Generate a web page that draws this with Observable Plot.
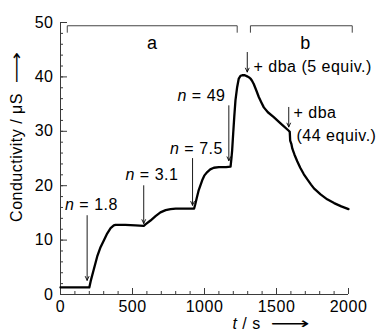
<!DOCTYPE html>
<html>
<head>
<meta charset="utf-8">
<script src="https://cdn.jsdelivr.net/npm/d3@7"></script>
<script src="https://cdn.jsdelivr.net/npm/@observablehq/plot@0.6"></script>
<style>
  html, body { margin: 0; padding: 0; background: white; }
</style>
</head>
<body>
<div id="chart"></div>
<script>
// ---- Data ----
const time = [0, 200, 210, 231, 255, 278, 300, 324, 348, 370, 382, 450, 520, 578, 590, 625, 660, 694, 730, 764, 800, 880, 928, 935, 945, 960, 984, 1000, 1019, 1040, 1065, 1100, 1150, 1181, 1187, 1192, 1199, 1207, 1215, 1226, 1238, 1250, 1262, 1280, 1296, 1310, 1319, 1330, 1342, 1360, 1377, 1395, 1412, 1440, 1481, 1530, 1585, 1592, 1595, 1603, 1610, 1625, 1644, 1665, 1690, 1713, 1740, 1760, 1806, 1852, 1900, 1950, 2000];
const conductivity = [1.3, 1.3, 2.5, 4.6, 7.0, 8.7, 9.9, 11.2, 12.2, 12.7, 12.8, 12.8, 12.7, 12.6, 12.9, 13.6, 14.4, 15.1, 15.5, 15.7, 15.8, 15.8, 15.8, 16.5, 17.6, 19.2, 21.0, 21.9, 22.5, 23.0, 23.3, 23.4, 23.4, 23.5, 25.0, 26.5, 29.5, 32.8, 35.7, 38.0, 39.7, 40.2, 40.3, 40.3, 40.1, 39.9, 39.7, 39.3, 38.7, 37.5, 36.3, 35.3, 34.4, 33.5, 32.6, 31.4, 30.1, 29.9, 28.3, 27.7, 26.8, 25.7, 24.5, 23.3, 22.1, 21.2, 20.2, 19.5, 18.4, 17.5, 16.8, 16.2, 15.7];

const xMajorTicks = [0, 500, 1000, 1500, 2000];
const xMinorTicks = d3.range(0, 2001, 100);
const yMajorTicks = [0, 10, 20, 30, 40, 50];
const yMinorTicks = d3.range(0, 51, 2);

const groupNames = ["a", "b"];
const groupStart = [47, 1319];
const groupEnd = [1227, 2026];
const groupLevel = [49.4, 49.4];
const groupTickEnd = [48.2, 48.2];
const groupLabelX = [637, 1701];
const groupLabelY = [46.1, 46.1];

const noteText = ["n = 1.8", "n = 3.1", "n = 7.5", "n = 49", "+ dba (5 equiv.)", "+ dba", "(44 equiv.)"];
const noteX = [215, 635, 944, 979, 1340, 1618, 1639];
const noteY = [16.4, 21.9, 26.7, 36.6, 41.9, 33.3, 29.1];
const noteAnchor = ["middle", "middle", "middle", "middle", "start", "start", "start"];

const arrowX = [185, 578, 917, 1169, 1297, 1585];
const arrowTop = [14.5, 20.0, 25.0, 34.7, 44.5, 34.4];
const arrowTip = [2.6, 13.05, 16.4, 24.6, 40.9, 30.8];

const yTitle = "Conductivity / μS ⟶";
const xTitle = "t / s ⟶";

// ---- Tables built from the arrays ----
const curve = time.map((t, i) => ({t, v: conductivity[i]}));
const brackets = groupNames.flatMap((g, i) => [
  {g, t: groupStart[i], v: groupTickEnd[i]},
  {g, t: groupStart[i], v: groupLevel[i]},
  {g, t: groupEnd[i], v: groupLevel[i]},
  {g, t: groupEnd[i], v: groupTickEnd[i]}
]);
const groupLabels = groupNames.map((g, i) => ({g, t: groupLabelX[i], v: groupLabelY[i]}));
const notes = noteText.map((s, i) => ({s, t: noteX[i], v: noteY[i], a: noteAnchor[i]}));
const arrows = arrowX.map((t, i) => ({t, v1: arrowTop[i], v2: arrowTip[i]}));

const axisColor = "#3a3a3a";
const fmt = d => String(d);

const chart = Plot.plot({
  width: 377,
  height: 329,
  marginLeft: 60,
  marginRight: 29,
  marginTop: 22,
  marginBottom: 35,
  x: {domain: [0, 2000]},
  y: {domain: [0, 50]},
  style: {
    fontFamily: "'Liberation Sans', Arial, Helvetica, sans-serif",
    fontSize: "16px",
    letterSpacing: "0.5px",
    background: "white",
    color: "black",
    overflow: "visible"
  },
  marks: [
    // axis lines
    Plot.ruleX([0], {stroke: axisColor, strokeWidth: 1}),
    Plot.ruleY([0], {stroke: axisColor, strokeWidth: 1}),
    // y axis: labels, inward major and minor ticks
    Plot.axisY(yMajorTicks, {tickSize: 0, tickPadding: 7, tickFormat: fmt, label: null, fill: "black"}),
    Plot.axisY(yMajorTicks, {tickSize: 7, dx: 7, text: null, label: null, stroke: axisColor}),
    Plot.axisY(yMinorTicks, {tickSize: 3, dx: 3, text: null, label: null, stroke: axisColor}),
    // x axis: labels, inward major and minor ticks
    Plot.axisX(xMajorTicks, {tickSize: 0, tickPadding: 6, tickFormat: fmt, label: null, fill: "black"}),
    Plot.axisX(xMajorTicks, {tickSize: 6, dy: -6, text: null, label: null, stroke: axisColor}),
    Plot.axisX(xMinorTicks, {tickSize: 3, dy: -3, text: null, label: null, stroke: axisColor}),
    // brackets a / b
    Plot.line(brackets, {x: "t", y: "v", z: "g", stroke: "#444", strokeWidth: 1}),
    Plot.text(groupLabels, {x: "t", y: "v", text: "g", fontSize: 18, fill: "black"}),
    // data curve
    Plot.line(curve, {x: "t", y: "v", stroke: "black", strokeWidth: 2.3, strokeLinejoin: "round", strokeLinecap: "round"}),
    // annotation arrows and labels
    Plot.arrow(arrows, {x1: "t", y1: "v1", x2: "t", y2: "v2", stroke: "black", strokeWidth: 0.9, headLength: 7, headAngle: 50}),
    Plot.text(notes.filter(d => d.a === "middle"), {x: "t", y: "v", text: "s", textAnchor: "middle", fill: "black"}),
    Plot.text(notes.filter(d => d.a === "start"), {x: "t", y: "v", text: "s", textAnchor: "start", fill: "black"}),
    // axis titles
    Plot.text([yTitle], {frameAnchor: "left", textAnchor: "middle", lineAnchor: "middle", rotate: -90, dx: -44, dy: -22, text: d => d, fill: "black"}),
    Plot.text([xTitle], {frameAnchor: "bottom", textAnchor: "middle", lineAnchor: "middle", dx: 67, dy: 29, text: d => d, fill: "black"})
  ]
});

// italic variable letters (n, t) and long arrows
const ns = "http://www.w3.org/2000/svg";
chart.querySelectorAll("text").forEach(el => {
  if (el.children.length !== 0) return;
  const s = el.textContent;
  const parts = [];
  const m = /^(n|t)( .*)$/.exec(s);
  let rest = s;
  if (m) { parts.push({s: m[1], italic: true}); rest = m[2]; }
  const ai = rest.indexOf("⟶");
  if (ai >= 0) {
    parts.push({s: rest.slice(0, ai) + " "});
    parts.push({s: "⟶", arrow: true});
    rest = rest.slice(ai + 1);
  }
  if (rest) parts.push({s: rest});
  if (parts.length < 2) return;
  el.textContent = "";
  for (const p of parts) {
    const t = document.createElementNS(ns, "tspan");
    t.textContent = p.s;
    if (p.italic) t.setAttribute("font-style", "italic");
    if (p.arrow) {
      t.setAttribute("font-family", "'DejaVu Sans', sans-serif");
      t.setAttribute("textLength", s.startsWith("t") ? "40" : "32");
      t.setAttribute("lengthAdjust", "spacingAndGlyphs");
    }
    el.appendChild(t);
  }
});

document.getElementById("chart").appendChild(chart);
</script>
</body>
</html>
